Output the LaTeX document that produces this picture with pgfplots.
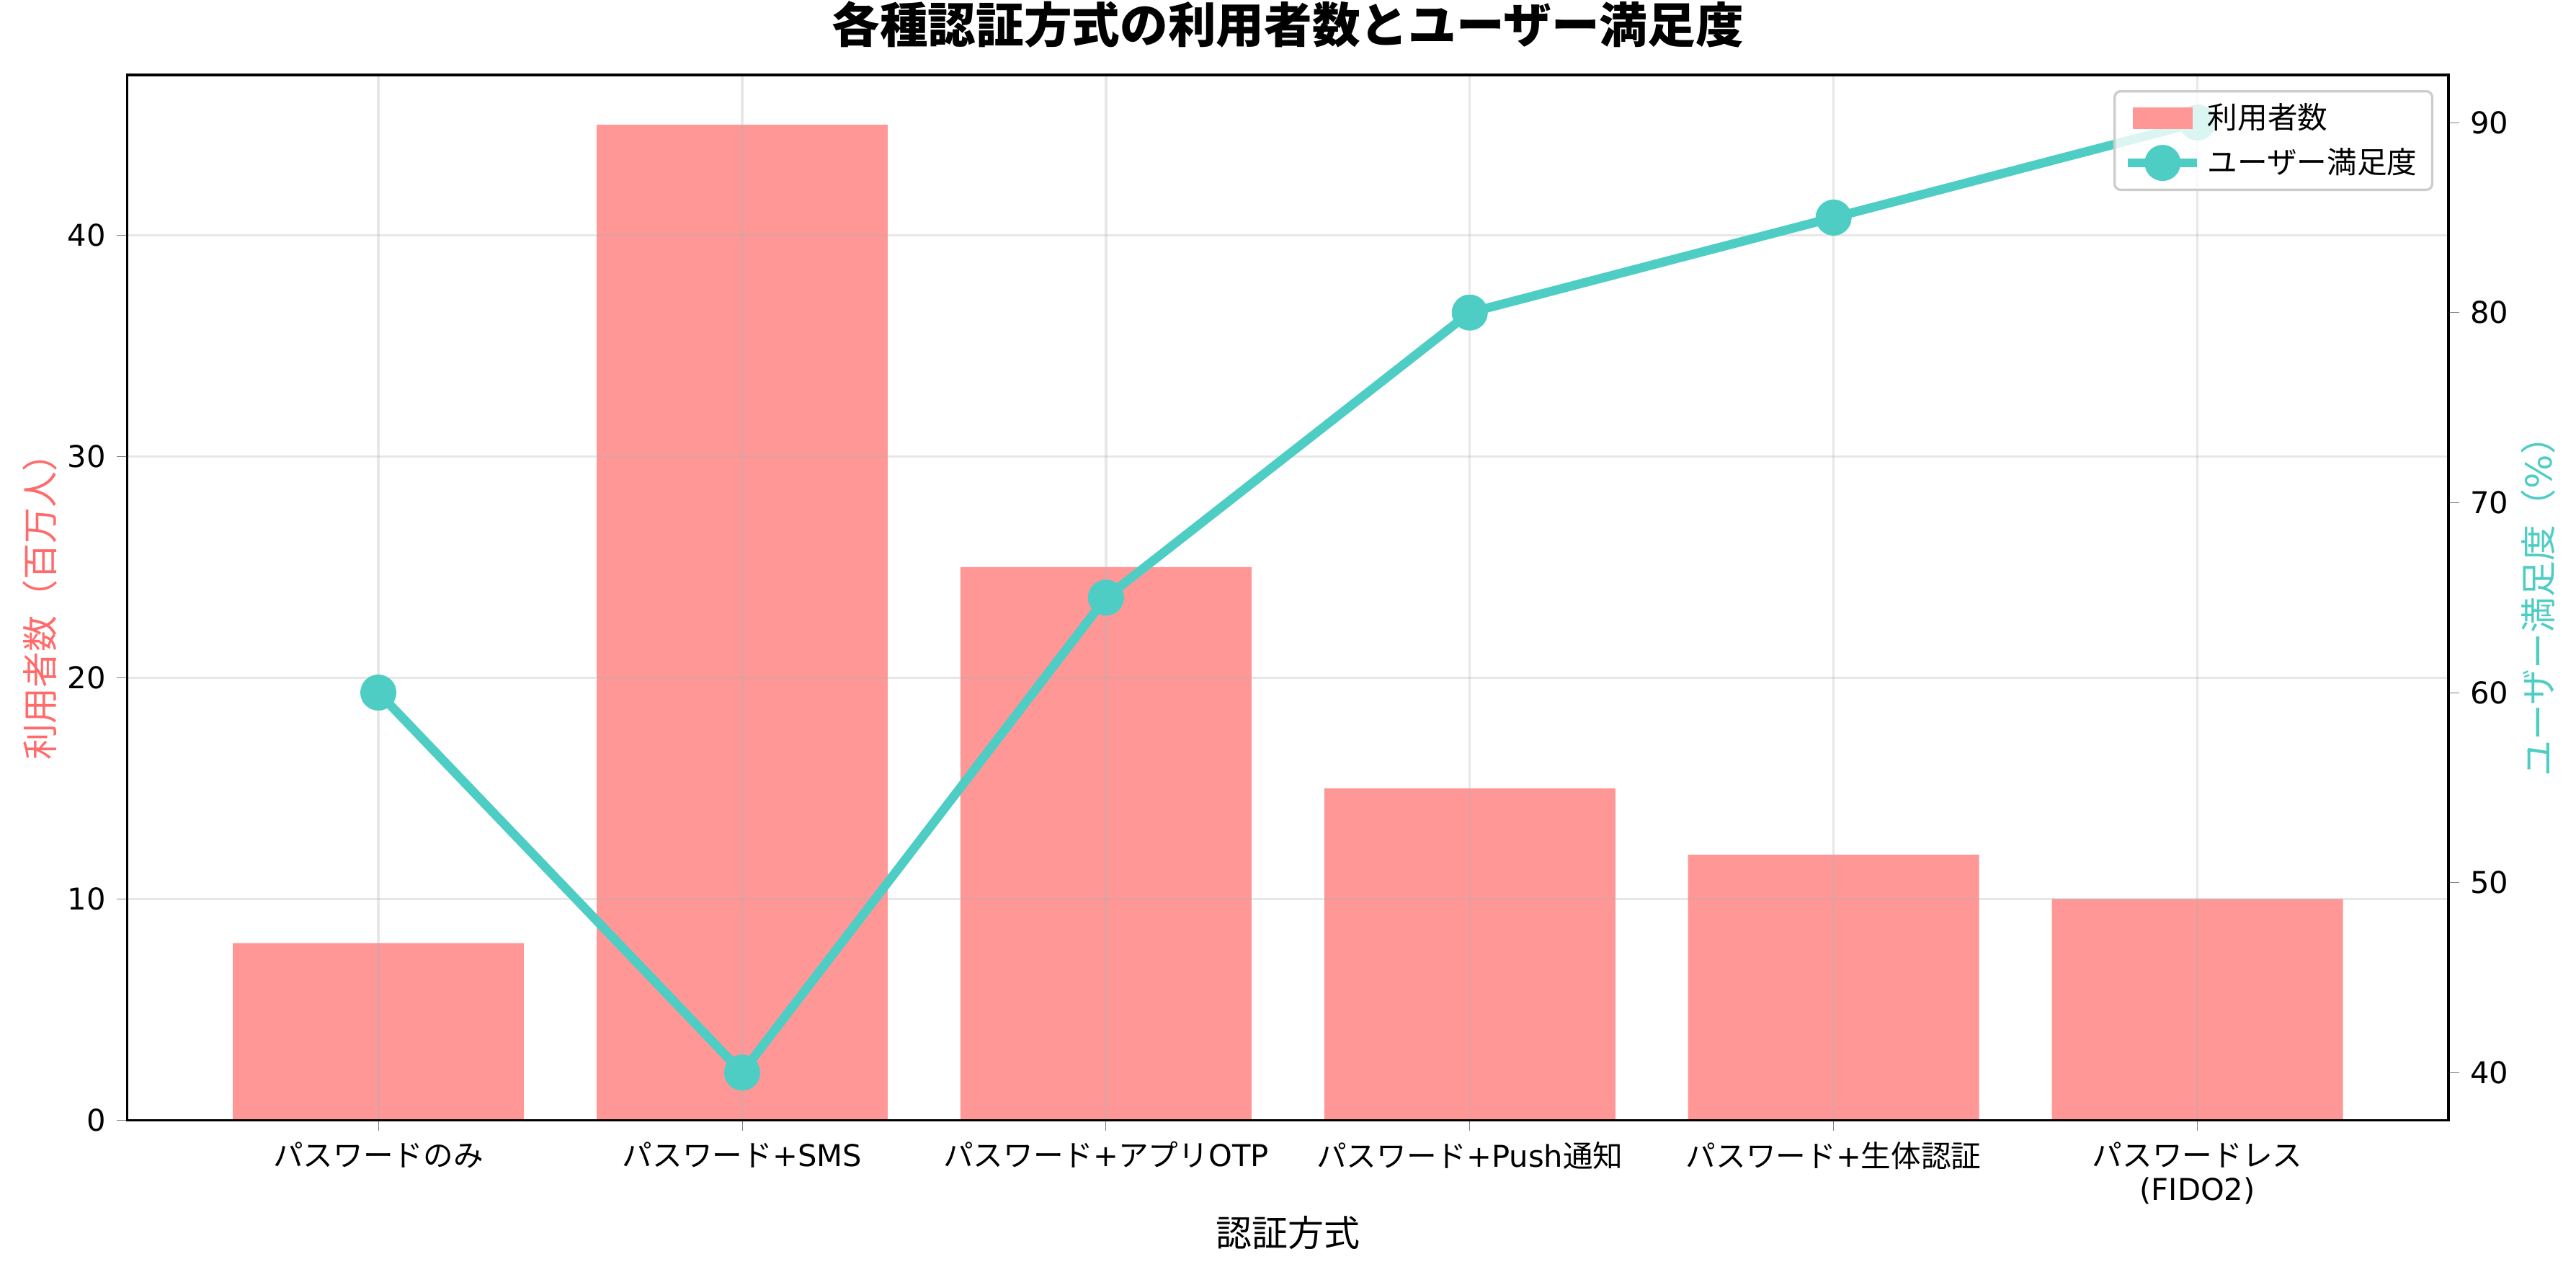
\documentclass[border=0pt]{standalone}
\usepackage{fontspec}
\setmainfont{DejaVu Sans}
\newfontfamily\cjk{Noto Sans CJK JP}
\newcommand\jp[1]{{\cjk #1}}
\usepackage{pgfplots}
\pgfplotsset{compat=1.18}
\definecolor{barc}{RGB}{255,151,151}
\definecolor{redlab}{HTML}{FF6B6B}
\definecolor{tealc}{HTML}{4ECDC4}
\begin{document}
\begin{tikzpicture}
\useasboundingbox (-42.4pt,-50.4pt) rectangle (815.6pt,373pt);
\begin{axis}[
  at={(0,0)}, anchor=south west,
  scale only axis, width=773.1pt, height=348pt,
  xmin=-0.69, xmax=5.69, ymin=0, ymax=47.25,
  ybar, bar width=0.8,
  xtick={0,1,2,3,4,5},
  xticklabels={{\jp{パスワードのみ}},{\jp{パスワード}+SMS},{\jp{パスワード}+\jp{アプリ}OTP},{\jp{パスワード}+Push\jp{通知}},{\jp{パスワード}+\jp{生体認証}},{\jp{パスワードレス}\\(FIDO2)}},
  xticklabel style={align=center, font=\fontsize{10}{11.5}\selectfont},
  yticklabel style={font=\fontsize{10}{12}\selectfont},
  ytick={0,10,20,30,40},
  xtick pos=left, ytick pos=left,
  tick align=outside, major tick length=3.5pt,
  line width=0.8pt,
  /pgf/number format/assume math mode=true,
  xmajorgrids, ymajorgrids,
  grid style={line width=0.8pt, color=black!31, opacity=0.3},
  axis on top,
  title={\jp{\bfseries 各種認証方式の利用者数とユーザー満足度}},
  title style={at={(axis description cs:0.5,1)}, anchor=center, yshift=10.8pt, font=\fontsize{16}{19}\selectfont},
  xlabel={\jp{認証方式}},
  xlabel style={at={(axis description cs:0.5,-0.1075)}, anchor=center, font=\fontsize{12}{14}\selectfont},
  ylabel={\jp{利用者数（百万人）}},
  ylabel style={at={(axis description cs:-0.0375,0.5)}, anchor=center, color=redlab, font=\fontsize{12}{14}\selectfont},
]
\addplot[fill=barc, draw=none] coordinates {(0,8) (1,45) (2,25) (3,15) (4,12) (5,10)};
\end{axis}
\begin{axis}[
  at={(0,0)}, anchor=south west,
  scale only axis, width=773.1pt, height=348pt,
  xmin=-0.69, xmax=5.69, ymin=37.5, ymax=92.5,
  axis y line*=right, axis x line=none,
  ytick={40,50,60,70,80,90},
  yticklabel style={font=\fontsize{10}{12}\selectfont},
  tick align=outside, major tick length=3.5pt,
  line width=0.8pt,
  /pgf/number format/assume math mode=true,
  ylabel={\jp{ユーザー満足度}\jp{（}\%\jp{）}},
  ylabel style={at={(axis description cs:1.0388,0.5)}, anchor=center, rotate=0, color=tealc, font=\fontsize{12}{14}\selectfont},
  legend style={at={(axis description cs:1,1)}, anchor=north east, xshift=-5pt, yshift=-5pt,
    draw=black!20, line width=0.8pt, rounded corners=2pt, fill=white, fill opacity=0.8, text opacity=1,
    font=\fontsize{10}{12}\selectfont, inner xsep=3pt, inner ysep=2pt, row sep=1pt},
  legend cell align=left,
]
\addlegendimage{legend image code/.code={\fill[barc, sharp corners, draw=none, fill opacity=1] (0pt,-3.5pt) rectangle (20pt,3.5pt);}}
\addlegendentry{\jp{利用者数}}
\addplot[color=tealc, line width=3pt, line join=round, mark=*, mark size=4.5pt,
  mark options={fill=tealc, draw=none},
  legend image code/.code={\draw[tealc, sharp corners, line width=3pt, draw opacity=1] (-1.5pt,0pt) -- (21.5pt,0pt); \fill[tealc, sharp corners, fill opacity=1] (10pt,0pt) circle (4.5pt);}]
  coordinates {(0,60) (1,40) (2,65) (3,80) (4,85) (5,90)};
\addlegendentry{\jp{ユーザー満足度}}
\end{axis}
\end{tikzpicture}
\end{document}
